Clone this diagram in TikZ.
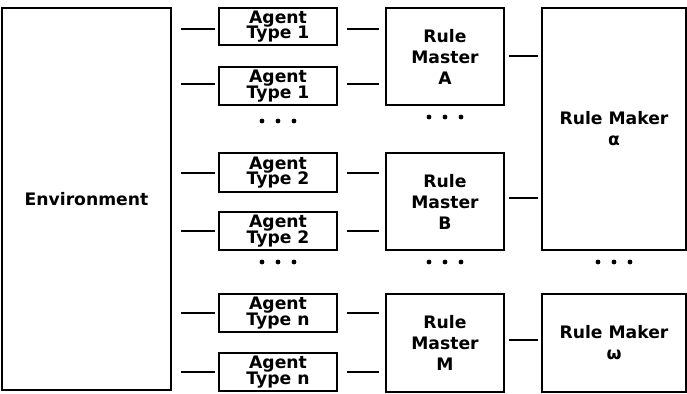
\documentclass[tikz,border=0pt]{standalone}
\usepackage{fontspec}
\setmainfont{DejaVu Sans}
\newcommand{\agentfont}{\bfseries\fontsize{17.2}{15.8}\selectfont\lineskiplimit=-30pt\relax}
\newcommand{\rulefont}{\bfseries\fontsize{17.2}{21}\selectfont\lineskiplimit=-30pt\relax}
\begin{document}
\begin{tikzpicture}[x=1pt,y=-1pt,
  box/.style={draw,line width=2pt,inner sep=0pt,align=center,font=\agentfont},
  rbox/.style={draw,line width=2pt,inner sep=0pt,align=center,font=\rulefont},
  conn/.style={line width=2pt}]
\useasboundingbox (0,0) rectangle (687,393);
% environment
\node[rbox,minimum width=169pt,minimum height=382pt] (env) at (86.5,199) {Environment};
% agents
\node[box,minimum width=118pt,minimum height=37pt] (a1) at (278,26.5) {Agent\\Type 1};
\node[box,minimum width=118pt,minimum height=38pt] (a2) at (278,86) {Agent\\Type 1};
\node[box,minimum width=118pt,minimum height=39pt] (a3) at (278,172.5) {Agent\\Type 2};
\node[box,minimum width=118pt,minimum height=38pt] (a4) at (278,231) {Agent\\Type 2};
\node[box,minimum width=118pt,minimum height=38pt] (a5) at (278,313) {Agent\\Type n};
\node[box,minimum width=118pt,minimum height=38pt] (a6) at (278,372) {Agent\\Type n};
% rule masters
\node[rbox,minimum width=118pt,minimum height=97pt] (ma) at (445,56.5) {Rule\\Master\\A};
\node[rbox,minimum width=118pt,minimum height=97pt] (mb) at (445,201.5) {Rule\\Master\\B};
\node[rbox,minimum width=118pt,minimum height=98pt] (mm) at (445,343) {Rule\\Master\\M};
% rule makers
\node[rbox,minimum width=144pt,minimum height=242pt] (ka) at (614,129) {Rule Maker\\α};
\node[rbox,minimum width=144pt,minimum height=98pt] (kw) at (614,343) {Rule Maker\\ω};
% dots
\coordinate (d1) at (278,121);
\coordinate (d2) at (278,262);
\coordinate (d3) at (445,117);
\coordinate (d4) at (445,262);
\coordinate (d5) at (614,262);
\foreach \d in {d1,d2,d3,d4,d5}
  \foreach \dx in {-16,0,16}
    \fill ([xshift=\dx pt]\d) circle (2.4pt);
% connectors env -> agents -> masters
\foreach \a/\s in {a1/2.5,a2/-2,a3/0.5,a4/0,a5/0,a6/0}{
  \draw[conn] ([xshift=-37pt,yshift=-\s pt]\a.west) -- ([xshift=-3pt,yshift=-\s pt]\a.west);
  \draw[conn] ([xshift=9pt,yshift=-\s pt]\a.east) -- ([xshift=41pt,yshift=-\s pt]\a.east);
}
% masters -> makers
\draw[conn] ([xshift=4pt,yshift=0.5pt]ma.east) -- ([xshift=-3pt,yshift=0.5pt]ma.east -| ka.west);
\draw[conn] ([xshift=4pt,yshift=3.5pt]mb.east) -- ([xshift=-3pt,yshift=3.5pt]mb.east -| ka.west);
\draw[conn] ([xshift=4pt,yshift=3pt]mm.east) -- ([xshift=-3pt,yshift=3pt]kw.west);
\end{tikzpicture}
\end{document}
